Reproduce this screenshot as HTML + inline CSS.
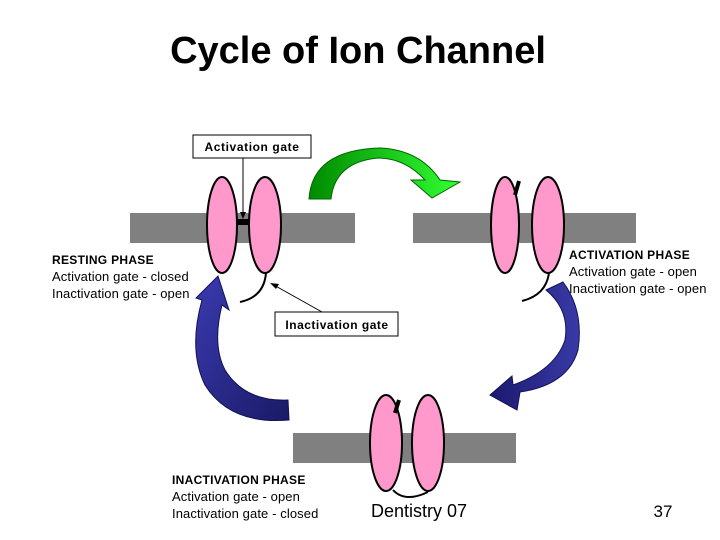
<!DOCTYPE html>
<html><head><style>
body{margin:0;background:#fff;}
svg{display:block;}
text{font-family:"Liberation Sans",sans-serif;}
</style></head><body>
<svg width="720" height="540" viewBox="0 0 720 540">
<defs>
<linearGradient id="g" x1="0" y1="0" x2="1" y2="0"><stop offset="0" stop-color="#008a00"/><stop offset="1" stop-color="#33ff33"/></linearGradient>
<linearGradient id="b1" x1="0" y1="0" x2="1" y2="0"><stop offset="0" stop-color="#1a1a6e"/><stop offset="1" stop-color="#3a3aa8"/></linearGradient>
<linearGradient id="b2" x1="0" y1="0" x2="1" y2="1"><stop offset="0" stop-color="#3a3ab0"/><stop offset="1" stop-color="#1a1a66"/></linearGradient>
</defs>
<text x="358" y="63" font-size="38" font-weight="bold" text-anchor="middle">Cycle of Ion Channel</text>

<rect x="130" y="213" width="225" height="30" fill="#808080"/>
<rect x="232" y="219" width="22" height="6" fill="#000"/>
<ellipse cx="222" cy="225" rx="15" ry="48" fill="#ff99cc" stroke="#000" stroke-width="2"/>
<ellipse cx="265" cy="225" rx="16" ry="48" fill="#ff99cc" stroke="#000" stroke-width="2"/>
<path d="M266,273 Q264,297 240,302" fill="none" stroke="#000" stroke-width="2"/>
<rect x="193" y="135" width="118" height="23" fill="#fff" stroke="#000"/>
<text x="252" y="151" font-size="12" font-weight="bold" letter-spacing="0.6" text-anchor="middle">Activation gate</text>
<line x1="243" y1="158" x2="243" y2="216" stroke="#000"/>
<path d="M240,212 L243,219 L246,212Z"/>
<rect x="275" y="312" width="123" height="24" fill="#fff" stroke="#000"/>
<text x="337" y="329" font-size="12" font-weight="bold" letter-spacing="0.5" text-anchor="middle">Inactivation gate</text>
<line x1="322" y1="312" x2="272" y2="284" stroke="#000"/>
<path d="M270,283 L279,284 L276,289Z"/>
<text x="52" y="264" font-size="12" font-weight="bold" letter-spacing="0.3">RESTING PHASE</text>
<text x="52" y="281" font-size="13" letter-spacing="0.1">Activation gate - closed</text>
<text x="52" y="298" font-size="13" letter-spacing="0.1">Inactivation gate - open</text>

<rect x="413" y="213" width="223" height="30" fill="#808080"/>
<ellipse cx="505" cy="225" rx="14" ry="48" fill="#ff99cc" stroke="#000" stroke-width="2"/>
<ellipse cx="548" cy="225" rx="16" ry="48" fill="#ff99cc" stroke="#000" stroke-width="2"/>
<path d="M519,181 L515,195" stroke="#000" stroke-width="4"/>
<path d="M549,273 Q546,295 522,301" fill="none" stroke="#000" stroke-width="2"/>
<text x="569" y="259" font-size="12" font-weight="bold" letter-spacing="0.3">ACTIVATION PHASE</text>
<text x="569" y="276" font-size="13" letter-spacing="0.1">Activation gate - open</text>
<text x="569" y="293" font-size="13" letter-spacing="0.1">Inactivation gate - open</text>

<rect x="293" y="433" width="223" height="30" fill="#808080"/>
<ellipse cx="386" cy="443" rx="16" ry="48" fill="#ff99cc" stroke="#000" stroke-width="2"/>
<ellipse cx="428" cy="443" rx="16" ry="48" fill="#ff99cc" stroke="#000" stroke-width="2"/>
<path d="M399,400 L395,413" stroke="#000" stroke-width="4"/>
<path d="M393,490 Q405,503 428,492" fill="none" stroke="#000" stroke-width="2"/>
<text x="172" y="484" font-size="12" font-weight="bold" letter-spacing="0.3">INACTIVATION PHASE</text>
<text x="172" y="501" font-size="13" letter-spacing="0.1">Activation gate - open</text>
<text x="172" y="518" font-size="13" letter-spacing="0.1">Inactivation gate - closed</text>
<text x="419" y="517" font-size="18" text-anchor="middle">Dentistry 07</text>
<text x="663" y="517" font-size="17" text-anchor="middle">37</text>

<path d="M309,199 Q312,150 380,148 Q420,150 440,180 L460,182 L432,198 L411,180 L425,180 Q405,158 378,158 Q335,162 331,199Z" fill="url(#g)" stroke="#006600" stroke-width="1"/>
<path d="M546,290 L563,282 Q584,310 578,350 Q568,385 520,392 L517,410 L490,395 L512,376 L513,385 Q555,370 565,340 Q570,310 546,290Z" fill="url(#b1)" stroke="#111155"/>
<path d="M289,420 Q230,425 205,385 Q188,350 202,300 L196,298 L218,276 L229,310 L222,305 Q212,345 225,370 Q245,402 288,400Z" fill="url(#b2)" stroke="#111155"/>
</svg>
</body></html>
